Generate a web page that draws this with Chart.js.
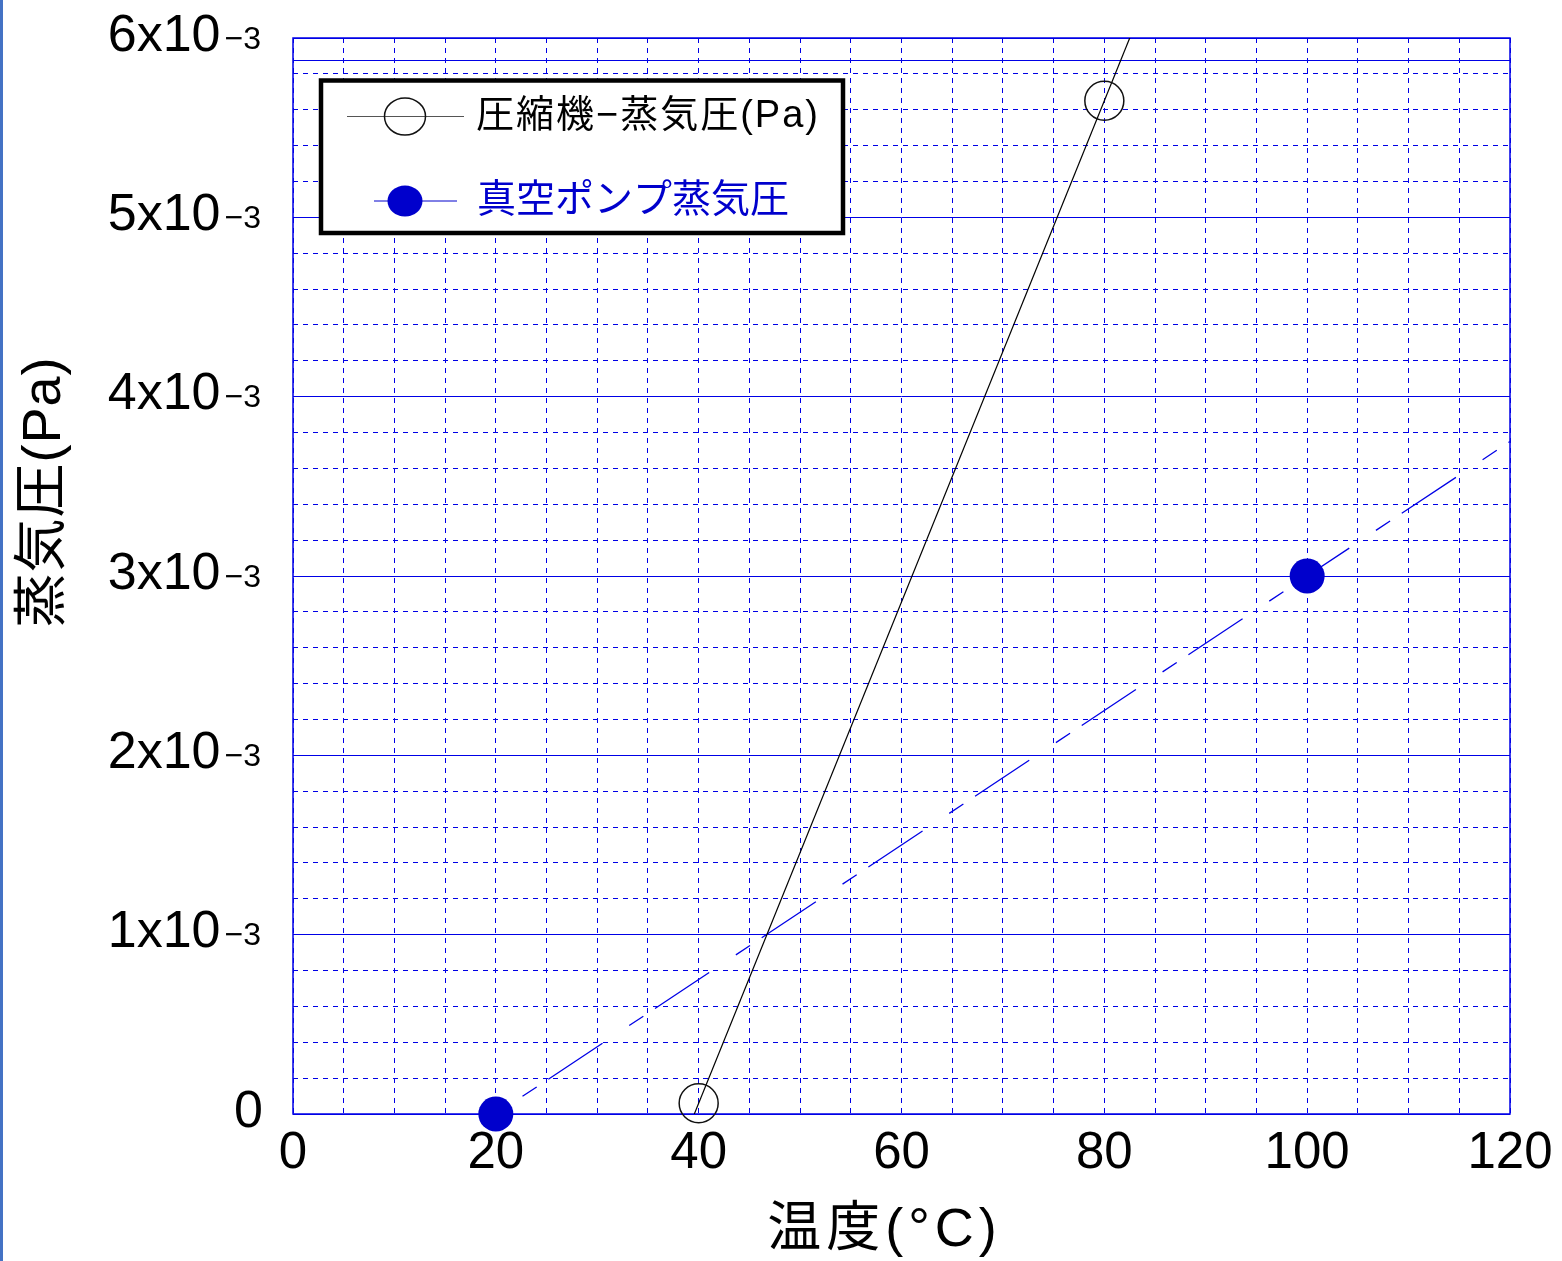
<!DOCTYPE html>
<html lang="ja">
<head>
<meta charset="utf-8">
<title>蒸気圧</title>
<script src="https://cdn.jsdelivr.net/npm/chart.js@4.4.0/dist/chart.umd.min.js"></script>
<style>
  html, body { margin:0; padding:0; background:#fff; }
  #wrap { position:relative; width:1562px; height:1261px; }
  #vaporChart { display:block; }
  #edge { position:absolute; left:0; top:0; width:3px; height:1261px; background:#4472c4; }
</style>
</head>
<body>
<div id="wrap">
  <canvas id="vaporChart" width="1562" height="1261"></canvas>
  <div id="edge"></div>
</div>
<script>
// --- datos ---
const compTemp = [40, 80];                 // 圧縮機 (°C)
const compPress = [0.00006, 0.00565];      // Pa
const vacTemp = [20, 100];                 // 真空ポンプ (°C)
const vacPress = [0, 0.003];               // Pa
const limitLine = 0.00588;                 // línea sólida cerca del tope

const xMin = 0, xMax = 120, xStep = 5, xLabelStep = 20;
const yMin = 0, yMax = 0.006, yMinor = 0.0002, yMajor = 0.001;
const yTicks = [0, 0.001, 0.002, 0.003, 0.004, 0.005, 0.006];
const yTickText = ['0', '1x10', '2x10', '3x10', '4x10', '5x10', '6x10'];
const yTickExp = ['', '−3', '−3', '−3', '−3', '−3', '−3'];

const compLabel = '圧縮機−蒸気圧(Pa)';
const vacLabel = '真空ポンプ蒸気圧';
const xTitle = '温度(°C)';
const yTitle = '蒸気圧(Pa)';

const gridBlue = '#0000e6';
const markBlue = '#0000cc';
const FONT = '"Liberation Sans", "Noto Sans CJK JP", sans-serif';

// recta que pasa por los dos puntos
function lineAt(xs, ys, x) {
  const m = (ys[1] - ys[0]) / (xs[1] - xs[0]);
  return ys[0] + m * (x - xs[0]);
}
const compFit = [xMin, xMax].map(x => ({ x, y: lineAt(compTemp, compPress, x) }));
const vacFit = [vacTemp[0], xMax].map(x => ({ x, y: lineAt(vacTemp, vacPress, x) }));

const overlay = {
  id: 'overlay',
  beforeDatasetsDraw(chart) {
    const { ctx, chartArea: a, scales: { y } } = chart;
    ctx.save();
    ctx.strokeStyle = gridBlue;
    ctx.lineWidth = 1;
    const ly = Math.round(y.getPixelForValue(limitLine)) + 0.5;
    ctx.beginPath(); ctx.moveTo(a.left, ly); ctx.lineTo(a.right, ly); ctx.stroke();
    ctx.lineWidth = 1.5;
    ctx.strokeRect(a.left, a.top, a.right - a.left, a.bottom - a.top);
    ctx.restore();
  },
  afterDraw(chart) {
    const { ctx, chartArea: a, scales: { y } } = chart;
    ctx.save();

    // etiquetas del eje Y con exponente pequeño
    ctx.fillStyle = '#000';
    ctx.textBaseline = 'alphabetic';
    ctx.textAlign = 'left';
    yTicks.forEach((v, i) => {
      const base = y.getPixelForValue(v) + 12.5;
      ctx.font = '52px ' + FONT;
      const mainW = ctx.measureText(yTickText[i]).width;
      ctx.font = '32px ' + FONT;
      const expW = yTickExp[i] ? ctx.measureText(yTickExp[i]).width + 4 : 0;
      const right = yTickExp[i] ? a.left - 32 : a.left - 30;
      const x0 = right - mainW - expW;
      ctx.font = '52px ' + FONT;
      ctx.fillText(yTickText[i], x0, base);
      if (yTickExp[i]) {
        ctx.font = '32px ' + FONT;
        ctx.fillText(yTickExp[i], x0 + mainW + 4, base - 2);
      }
    });

    // títulos de ejes
    ctx.textAlign = 'center';
    ctx.textBaseline = 'middle';
    ctx.font = '54px ' + FONT;
    ctx.letterSpacing = '5px';
    ctx.fillText(xTitle, (a.left + a.right) / 2 - 17, a.bottom + 117);
    ctx.letterSpacing = '1px';
    ctx.save();
    ctx.translate(45, (a.top + a.bottom) / 2 - 84);
    ctx.rotate(-Math.PI / 2);
    ctx.fillText(yTitle, 0, 0);
    ctx.restore();
    ctx.letterSpacing = '0px';

    // leyenda
    const bx = 321, by = 80.5, bw = 522, bh = 152.5;
    ctx.fillStyle = '#fff';
    ctx.fillRect(bx, by, bw, bh);
    ctx.lineWidth = 4.5;
    ctx.strokeStyle = '#000';
    ctx.strokeRect(bx, by, bw, bh);

    const ds = chart.data.datasets;
    // fila 1
    ctx.lineWidth = 1;
    ctx.strokeStyle = '#555';
    ctx.beginPath(); ctx.moveTo(347, 116.5); ctx.lineTo(464, 116.5); ctx.stroke();
    ctx.lineWidth = 1.5;
    ctx.strokeStyle = '#111';
    ctx.beginPath(); ctx.ellipse(405, 116.5, 20.5, 18.5, 0, 0, Math.PI * 2); ctx.stroke();
    ctx.font = '38px ' + FONT;
    ctx.textAlign = 'left';
    ctx.fillStyle = '#000';
    ctx.letterSpacing = '2px';
    ctx.fillText(ds[0].label, 476, 117);
    ctx.letterSpacing = '0px';
    // fila 2
    ctx.lineWidth = 1;
    ctx.strokeStyle = markBlue;
    ctx.beginPath(); ctx.moveTo(374, 201); ctx.lineTo(457, 201); ctx.stroke();
    ctx.fillStyle = markBlue;
    ctx.beginPath(); ctx.ellipse(405, 201, 17.5, 15.5, 0, 0, Math.PI * 2); ctx.fill();
    ctx.font = '39px ' + FONT;
    ctx.fillText(ds[1].label, 477, 201);

    ctx.restore();
  }
};

const ctx = document.getElementById('vaporChart');
new Chart(ctx, {
  type: 'scatter',
  data: {
    datasets: [
      {
        label: compLabel,
        data: compTemp.map((t, i) => ({ x: t, y: compPress[i] })),
        pointRadius: 19.5, pointHoverRadius: 19.5,
        pointBorderColor: '#111', pointBorderWidth: 1.5,
        pointBackgroundColor: 'rgba(0,0,0,0)',
        showLine: false, clip: false
      },
      {
        label: vacLabel,
        data: vacTemp.map((t, i) => ({ x: t, y: vacPress[i] })),
        pointRadius: 17.5, pointHoverRadius: 17.5,
        pointBorderWidth: 0,
        pointBackgroundColor: markBlue,
        showLine: false, clip: false
      },
      {
        label: 'comp-fit',
        data: compFit,
        showLine: true, pointRadius: 0,
        borderColor: '#000', borderWidth: 1.2, clip: 0
      },
      {
        label: 'vac-fit',
        data: vacFit,
        showLine: true, pointRadius: 0,
        borderColor: gridBlue, borderWidth: 1.3,
        borderDash: [17, 14, 65, 32], borderDashOffset: 96, clip: 0
      }
    ]
  },
  options: {
    responsive: false,
    animation: false,
    events: [],
    layout: { padding: { top: 38, right: 52, left: 0, bottom: 0 } },
    plugins: { legend: { display: false }, tooltip: { enabled: false } },
    scales: {
      x: {
        type: 'linear', position: 'bottom',
        min: xMin, max: xMax,
        afterFit: s => { s.height = 147; },
        ticks: {
          stepSize: xStep, autoSkip: false, maxRotation: 0, padding: 9,
          color: '#000', font: { size: 51, family: FONT },
          callback: v => (v % xLabelStep === 0 ? String(v) : '')
        },
        grid: { color: gridBlue, lineWidth: 1, drawTicks: false },
        border: { display: false, dash: [5, 5] }
      },
      y: {
        type: 'linear', position: 'left',
        min: yMin, max: yMax,
        afterFit: s => { s.width = 293; },
        ticks: { stepSize: yMinor, autoSkip: false, display: false },
        grid: { color: gridBlue, lineWidth: 1, drawTicks: false },
        border: { display: false, dash: [5, 5] }
      },
      y2: {
        type: 'linear', position: 'left',
        min: yMin, max: yMax,
        afterFit: s => { s.width = 0; },
        ticks: { stepSize: yMajor, autoSkip: false, display: false },
        grid: { color: gridBlue, lineWidth: 1, drawTicks: false },
        border: { display: false }
      }
    }
  },
  plugins: [overlay]
});
</script>
</body>
</html>
